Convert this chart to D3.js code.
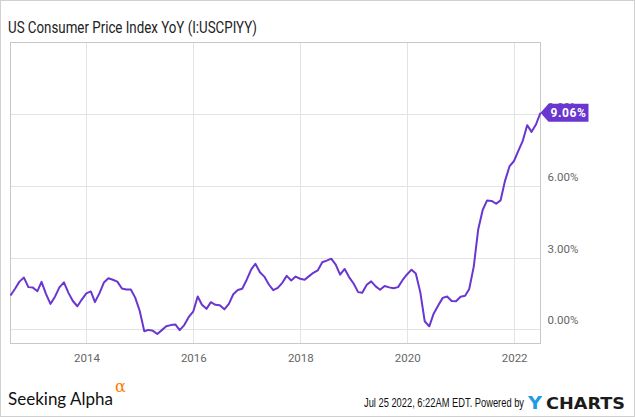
<!DOCTYPE html>
<html><head><meta charset="utf-8">
<script src="https://cdn.jsdelivr.net/npm/d3@7"></script>
<style>
html,body{margin:0;padding:0;background:#fff;}
svg{display:block;}
</style></head>
<body>
<svg id="chart" width="635" height="417"></svg>
<script>
// Monthly CPI YoY (%), Jul 2012 .. Jun 2022 (dated month-end)
const startMonth = [2012, 6]; // year, month index (July)
const cpiValues = [
  1.41,1.69,1.99,2.16,1.76,1.74,
  1.59,1.98,1.47,1.06,1.36,1.75,1.96,1.52,1.18,0.96,1.24,1.50,
  1.58,1.13,1.51,1.95,2.13,2.07,1.99,1.70,1.66,1.66,1.32,0.76,
  -0.09,-0.03,-0.07,-0.20,-0.04,0.12,0.17,0.20,-0.04,0.17,0.50,0.73,
  1.37,1.02,0.85,1.13,1.02,1.00,0.83,1.06,1.46,1.64,1.69,2.07,
  2.50,2.74,2.38,2.20,1.87,1.63,1.73,1.94,2.23,2.04,2.20,2.11,
  2.07,2.21,2.36,2.46,2.80,2.87,2.95,2.70,2.28,2.52,2.18,1.91,
  1.55,1.52,1.86,2.00,1.79,1.65,1.81,1.75,1.71,1.76,2.05,2.29,
  2.49,2.33,1.54,0.33,0.12,0.65,0.99,1.31,1.37,1.18,1.17,1.36,
  1.40,1.68,2.62,4.16,4.99,5.39,5.37,5.25,5.39,6.22,6.81,7.04,
  7.48,7.87,8.54,8.26,8.58,9.06
];
const yTicks = [0, 3, 6, 9];
const xTickYears = [2014, 2016, 2018, 2020, 2022];
const titleText = "US Consumer Price Index YoY (I:USCPIYY)";
const lastLabel = "9.06%";

const data = cpiValues.map((v, i) => ({
  date: new Date(startMonth[0], startMonth[1] + i + 1, 0), // month end
  value: v
}));

const svg = d3.select("#chart");
const W = 635, H = 417;
const plot = {left: 10.5, right: 540.5, top: 42.5, bottom: 343.5};

const x = d3.scaleTime()
  .domain([data[0].date, data[data.length - 1].date])
  .range([plot.left, plot.right]);
const y = d3.scaleLinear()
  .domain([-0.6, 12])
  .range([plot.bottom, plot.top]);

// outer frame
svg.append("rect").attr("x", 0.5).attr("y", 0.5).attr("width", W - 1).attr("height", H - 1)
  .attr("fill", "#fff").attr("stroke", "#d0d0d0");

// title
svg.append("text").attr("x", 8).attr("y", 33)
  .attr("font-family", "Roboto, sans-serif").attr("font-size", 16)
  .attr("fill", "#222")
  .attr("textLength", 249).attr("lengthAdjust", "spacingAndGlyphs")
  .text(titleText);

// gridlines
const grid = svg.append("g");
grid.selectAll("line.h").data(yTicks).join("line")
  .attr("x1", plot.left).attr("x2", plot.right)
  .attr("y1", d => Math.round(y(d)) + 0.5).attr("y2", d => Math.round(y(d)) + 0.5)
  .attr("stroke", "#e3e3e3").attr("stroke-width", 1);
grid.selectAll("line.v").data(xTickYears).join("line")
  .attr("x1", d => Math.round(x(new Date(d, 0, 1))) + 0.5)
  .attr("x2", d => Math.round(x(new Date(d, 0, 1))) + 0.5)
  .attr("y1", plot.top).attr("y2", plot.bottom)
  .attr("stroke", "#e3e3e3").attr("stroke-width", 1);

// plot frame
svg.append("rect").attr("x", plot.left).attr("y", plot.top)
  .attr("width", plot.right - plot.left).attr("height", plot.bottom - plot.top)
  .attr("fill", "none").attr("stroke", "#c8c8c8");

// y axis labels (right)
const yAxis = d3.axisRight(y).tickValues(yTicks).tickSize(0)
  .tickFormat(d => d3.format(".2f")(d) + "%");
const ya = svg.append("g").attr("transform", `translate(${plot.right + 6},0)`).call(yAxis);
ya.select(".domain").remove();
ya.selectAll("text").attr("font-family", "Roboto, sans-serif").attr("font-size", 11.5)
  .attr("fill", "#666").attr("x", 1)
  .attr("dy", d => d === 9 ? "-0.3em" : "-0.45em");

// x axis labels
const xAxis = d3.axisBottom(x).tickValues(xTickYears.map(yy => new Date(yy, 0, 1)))
  .tickSize(0).tickFormat(d3.timeFormat("%Y"));
const xa = svg.append("g").attr("transform", `translate(0,${plot.bottom})`).call(xAxis);
xa.select(".domain").remove();
xa.selectAll("text").attr("font-family", "Roboto, sans-serif").attr("font-size", 11.5)
  .attr("fill", "#666").attr("y", 10).attr("dy", "0.71em");

// line
const line = d3.line().x(d => x(d.date)).y(d => y(d.value));
svg.append("path").datum(data).attr("d", line)
  .attr("fill", "none").attr("stroke", "#6936d0").attr("stroke-width", 2)
  .attr("stroke-linejoin", "round");

// last value flag
const last = data[data.length - 1];
const lx = x(last.date), ly = y(last.value);
const flagH = 18, flagW = 40, tip = 8;
svg.append("path")
  .attr("d", `M${lx},${ly} L${lx + tip},${ly - flagH / 2} L${lx + tip + flagW},${ly - flagH / 2} L${lx + tip + flagW},${ly + flagH / 2} L${lx + tip},${ly + flagH / 2} Z`)
  .attr("fill", "#6936d0");
svg.append("text").attr("x", lx + tip + flagW / 2).attr("y", ly + 4.5)
  .attr("text-anchor", "middle")
  .attr("font-family", "Roboto, sans-serif").attr("font-size", 12).attr("font-weight", "bold")
  .attr("fill", "#fff").attr("letter-spacing", 0.6)
  .text(lastLabel);

// footer: Seeking Alpha
svg.append("text").attr("x", 8).attr("y", 405)
  .attr("font-family", "Lato, 'Open Sans', sans-serif").attr("font-size", 18)
  .attr("fill", "#111").attr("textLength", 105).attr("lengthAdjust", "spacingAndGlyphs")
  .text("Seeking Alpha");
svg.append("text").attr("x", 115).attr("y", 392)
  .attr("font-family", "'DejaVu Serif', serif").attr("font-size", 16)
  .attr("fill", "#ff7a00").text("α");

// footer right
svg.append("text").attr("x", 364).attr("y", 407)
  .attr("font-family", "'Liberation Sans Narrow', 'Liberation Sans', Arial, sans-serif").attr("font-size", 12)
  .attr("fill", "#111").attr("textLength", 160).attr("lengthAdjust", "spacingAndGlyphs")
  .text("Jul 25 2022, 6:22AM EDT.  Powered by");
svg.append("text").attr("x", 528).attr("y", 409)
  .attr("font-family", "'DejaVu Sans', sans-serif").attr("font-size", 17).attr("font-weight", "bold")
  .attr("fill", "#1e9be8").attr("textLength", 14).attr("lengthAdjust", "spacingAndGlyphs").text("Y");
svg.append("text").attr("x", 546).attr("y", 409)
  .attr("font-family", "'DejaVu Sans', sans-serif").attr("font-size", 16).attr("font-weight", "bold")
  .attr("fill", "#1b1b1b").attr("textLength", 79).attr("lengthAdjust", "spacingAndGlyphs")
  .text("CHARTS");
</script>
</body></html>
